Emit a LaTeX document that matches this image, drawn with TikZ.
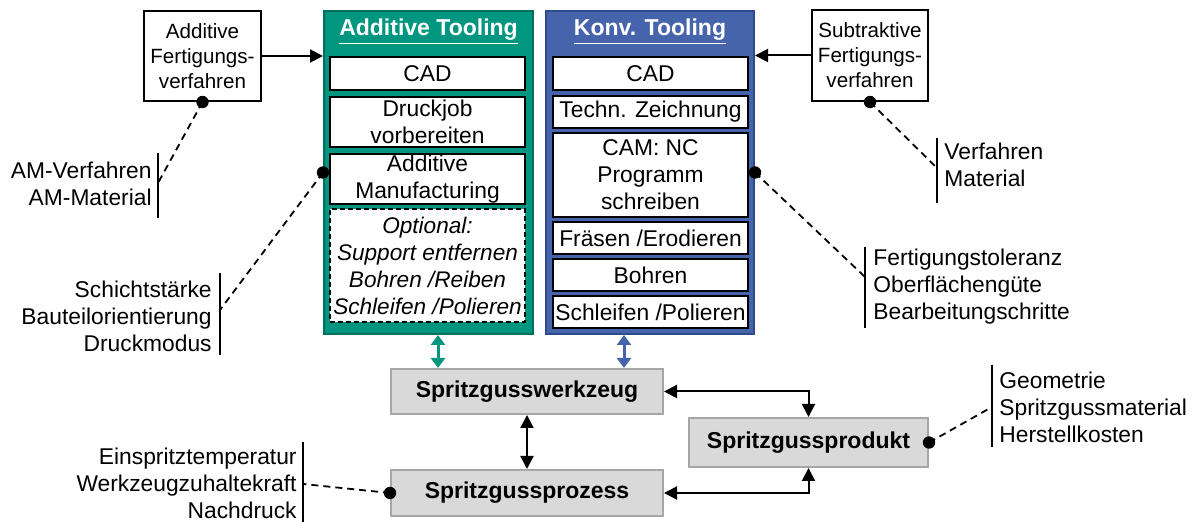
\documentclass[tikz,border=0pt]{standalone}
\usepackage{fontspec}
\setmainfont{Liberation Sans}
\usetikzlibrary{arrows.meta,calc}
\definecolor{tealfill}{HTML}{009680}
\definecolor{tealline}{HTML}{00705C}
\definecolor{bluefill}{HTML}{4664AC}
\definecolor{blueline}{HTML}{2F4A8A}
\definecolor{grayfill}{HTML}{D9D9D9}
\definecolor{grayline}{HTML}{A6A6A6}

\begin{document}
\begin{tikzpicture}[x=0.5pt,y=-0.5pt,
  every node/.style={font=\fontsize{11.4}{13.5}\selectfont, inner sep=0pt, align=center},
  % a box given by its corners (x1,y1) and (x2,y2) in drawing units
  area/.style n args={4}{at={({(#1+#3)/2},{(#2+#4)/2})},
    minimum width={(#3-#1)*0.5pt}, minimum height={(#4-#2)*0.5pt}},
  srcbox/.style={draw, line width=1pt, fill=white, font=\fontsize{10.3}{12.5}\selectfont},
  stepbox/.style={draw, line width=1.4pt, fill=white},
  optbox/.style={draw, line width=1pt, dash pattern=on 2.5pt off 1.5pt, fill=white,
    font=\fontsize{11.3}{13.5}\selectfont\itshape},
  graybox/.style={draw=grayline, line width=1pt, fill=grayfill,
    font=\fontsize{11.5}{13.5}\selectfont\bfseries},
  title/.style={text=white, font=\fontsize{11.5}{13.5}\selectfont\bfseries},
  link/.style={line width=1pt, -{Triangle[length=6.5pt,width=6.5pt]}},
  dlink/.style={line width=1pt, {Triangle[length=6.5pt,width=6.5pt]}-{Triangle[length=6.5pt,width=6.5pt]}},
  clink/.style={line width=1.5pt, {Triangle[length=5pt,width=7pt]}-{Triangle[length=5pt,width=7pt]}},
  note/.style={line width=0.9pt, dash pattern=on 3.5pt off 2.5pt},
  bar/.style={line width=1pt},
  dotmark/.style={fill=black}
]
\useasboundingbox[fill=white] (0,0) rectangle (1194,522);

% process columns
\node[area={324}{11}{533}{334}, fill=tealfill, draw=tealline, line width=1pt] (atool) {};
\node[area={546}{11}{754}{334}, fill=bluefill, draw=blueline, line width=1pt] (ktool) {};
\node[title] (atitle) at (428.5,32) {\underline{Additive Tooling}};
\node[title] (ktitle) at (650,32) {\underline{Konv. Tooling}};

% additive steps
\node[stepbox, area={330}{57}{525}{90}] (acad) {CAD};
\node[stepbox, area={330}{97}{525}{147}] (adruck) {Druckjob\\vorbereiten};
\node[stepbox, area={330}{154}{525}{204}] (aam) {Additive\\Manufacturing};
\node[optbox, area={330}{209}{525}{322}] (aopt) {Optional:\\Support entfernen\\Bohren /Reiben\\Schleifen /Polieren};

% conventional steps
\node[stepbox, area={553}{57}{748}{90}] (kcad) {CAD};
\node[stepbox, area={553}{96}{748}{128}] (ktz) {Techn. Zeichnung};
\node[stepbox, area={553}{133}{748}{217}] (kcam) {CAM: NC\\Programm\\schreiben};
\node[stepbox, area={553}{222}{748}{254}] (kfr) {Fräsen /Erodieren};
\node[stepbox, area={553}{259}{748}{291}] (kbo) {Bohren};
\node[stepbox, area={553}{296}{748}{328}] (ksp) {Schleifen /Polieren};

% manufacturing method boxes
\node[srcbox, area={144}{11}{261}{101}] (afv) {Additive\\Fertigungs-\\verfahren};
\node[srcbox, area={812}{10}{928}{101}] (sfv) {Subtraktive\\Fertigungs-\\verfahren};
\draw[link] (afv.east) -- (afv.east -| atool.west);
\draw[link] (sfv.west) -- (sfv.west -| ktool.east);

% injection moulding blocks
\node[graybox, area={391}{369}{663}{414}] (werk) {Spritzgusswerkzeug};
\node[graybox, area={391}{470}{663}{516}] (proz) {Spritzgussprozess};
\node[graybox, area={689}{418}{928}{467}] (prod) {Spritzgussprodukt};

\coordinate (gx) at (438,0);
\coordinate (bx) at (624,0);
\draw[clink, tealfill] (atool.south -| gx) -- (werk.north -| gx);
\draw[clink, bluefill] (ktool.south -| bx) -- (werk.north -| bx);
\draw[dlink] (werk.south) -- (proz.north);
\draw[dlink] (werk.east) -| (prod.north);
\draw[dlink] (proz.east) -| (prod.south);

% parameter lists
\node[anchor=east, align=right] (amlist) at (152,183.5) {AM-Verfahren\\AM-Material};
\coordinate (amtop) at (158,153); \coordinate (ambot) at (158,218); \coordinate (amtick) at (158,183);
\draw[bar] (amtop) -- (ambot);

\node[anchor=east, align=right] (drlist) at (212,316.5) {Schichtstärke\\Bauteilorientierung\\Druckmodus};
\coordinate (drtop) at (220,273); \coordinate (drbot) at (220,355); \coordinate (drtick) at (220,310);
\draw[bar] (drtop) -- (drbot);

\node[anchor=west, align=left] (svlist) at (944,164.5) {Verfahren\\Material};
\coordinate (svtop) at (937,138); \coordinate (svbot) at (937,203); \coordinate (svtick) at (937,168);
\draw[bar] (svtop) -- (svbot);

\node[anchor=west, align=left] (felist) at (873,287) {Fertigungstoleranz\\Oberflächengüte\\Bearbeitungschritte};
\coordinate (fetop) at (865,247); \coordinate (febot) at (865,328); \coordinate (fetick) at (865,277);
\draw[bar] (fetop) -- (febot);

\node[anchor=west, align=left] (prlist) at (999,407.5) {Geometrie\\Spritzgussmaterial\\Herstellkosten};
\coordinate (prtop) at (992,365); \coordinate (prbot) at (992,447); \coordinate (prtick) at (992,407);
\draw[bar] (prtop) -- (prbot);

\node[anchor=east, align=right] (pzlist) at (297,483) {Einspritztemperatur\\Werkzeugzuhaltekraft\\Nachdruck};
\coordinate (pztop) at (303,442); \coordinate (pzbot) at (303,522); \coordinate (pztick) at (303,484);
\draw[bar] (pztop) -- (pzbot);

% dashed references with dots
\draw[note] (afv.south) -- (amtick);
\draw[note] (atool.west) -- (drtick);
\draw[note] (sfv.south) -- (svtick);
\draw[note] (ktool.east) -- (fetick);
\draw[note] (prod.east) -- (prtick);
\draw[note] (proz.west) -- (pztick);
\foreach \p in {afv.south, atool.west, sfv.south, ktool.east, prod.east, proz.west}
  \fill[dotmark] (\p) circle (3.1pt);
\end{tikzpicture}
\end{document}
